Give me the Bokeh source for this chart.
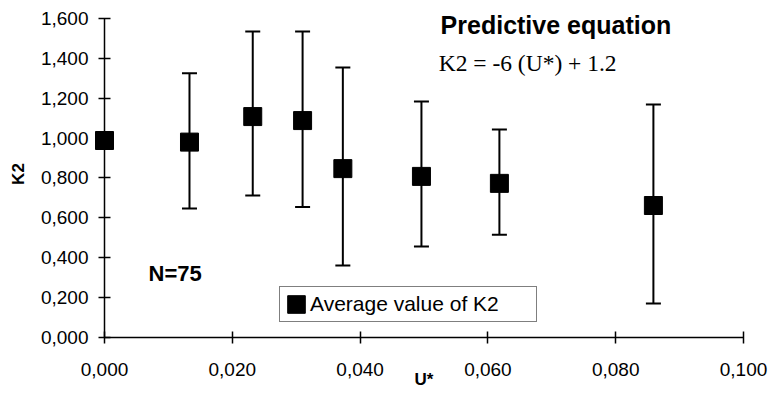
from bokeh.plotting import figure
from bokeh.models import (ColumnDataSource, Whisker, TeeHead, Range1d, FixedTicker,
                          Label, Legend, LegendItem)
from bokeh.embed import file_html
from bokeh.resources import INLINE

# ---- data ----
u_star = [0.000, 0.0133, 0.0232, 0.0310, 0.0373, 0.0496, 0.0618, 0.0859]
k2_mean = [0.988, 0.980, 1.108, 1.088, 0.847, 0.808, 0.773, 0.662]
k2_upper = [None, 1.325, 1.535, 1.535, 1.354, 1.184, 1.043, 1.168]
k2_lower = [None, 0.647, 0.712, 0.655, 0.361, 0.456, 0.515, 0.170]

x_ticks = [0, 0.02, 0.04, 0.06, 0.08, 0.1]
x_tick_labels = ["0,000", "0,020", "0,040", "0,060", "0,080", "0,100"]
y_ticks = [0, 0.2, 0.4, 0.6, 0.8, 1.0, 1.2, 1.4, 1.6]
y_tick_labels = ["0,000", "0,200", "0,400", "0,600", "0,800", "1,000", "1,200", "1,400", "1,600"]

SANS = "Liberation Sans"
SERIF = "Liberation Serif"

src = ColumnDataSource(dict(u=u_star, k2=k2_mean))
eb_idx = [i for i, v in enumerate(k2_upper) if v is not None]
eb_src = ColumnDataSource(dict(
    u=[u_star[i] for i in eb_idx],
    hi=[k2_upper[i] for i in eb_idx],
    lo=[k2_lower[i] for i in eb_idx],
))

p = figure(width=770, height=395,
           x_range=Range1d(0, 0.1), y_range=Range1d(0, 1.64),
           output_backend="svg", toolbar_location=None,
           min_border_left=104, min_border_right=27,
           min_border_top=10, min_border_bottom=58)
p.grid.visible = False
p.outline_line_color = None
p.background_fill_color = "white"
p.border_fill_color = "white"

# error bars
whisk = Whisker(base="u", upper="hi", lower="lo", source=eb_src, dimension="height",
                line_color="black", line_width=2,
                upper_head=TeeHead(size=15, line_color="black", line_width=2),
                lower_head=TeeHead(size=15, line_color="black", line_width=2))
p.add_layout(whisk)

# markers (overlay level so the point on the y axis is not clipped by the frame)
r = p.rect(x="u", y="k2", width=18, height=18, width_units="screen", height_units="screen",
           fill_color="black", line_color="black", source=src, level="overlay")

# axes
for ax in (p.xaxis[0], p.yaxis[0]):
    ax.axis_line_color = "black"
    ax.axis_line_width = 1.5
    ax.major_tick_line_color = "black"
    ax.major_tick_line_width = 1.5
    ax.major_tick_in = 6
    ax.major_tick_out = 6
    ax.minor_tick_line_color = None
    ax.major_label_text_font = SANS
    ax.major_label_text_font_size = "19px"
    ax.major_label_text_color = "black"

p.xaxis[0].ticker = FixedTicker(ticks=x_ticks)
p.xaxis[0].major_label_overrides = dict(zip(x_ticks, x_tick_labels))
p.xaxis[0].major_label_standoff = 19
p.xaxis[0].axis_label = "U*"
p.xaxis[0].axis_label_text_font = SANS
p.xaxis[0].axis_label_text_font_style = "bold"
p.xaxis[0].axis_label_text_font_size = "17px"
p.xaxis[0].axis_label_text_color = "black"
p.xaxis[0].axis_label_standoff = -9

p.yaxis[0].ticker = FixedTicker(ticks=y_ticks)
p.yaxis[0].bounds = (0, 1.6)
p.yaxis[0].major_label_overrides = dict(zip(y_ticks, y_tick_labels))
p.yaxis[0].major_label_standoff = 10
p.yaxis[0].axis_label = "K2"
p.yaxis[0].axis_label_text_font = SANS
p.yaxis[0].axis_label_text_font_style = "bold"
p.yaxis[0].axis_label_text_font_size = "17px"
p.yaxis[0].axis_label_text_color = "black"
p.yaxis[0].axis_label_standoff = 10

# annotations
p.add_layout(Label(x=0.0069, y=0.321, text="N=75", text_font=SANS, text_font_style="bold",
                   text_font_size="22px", text_baseline="middle", text_color="black"))
p.add_layout(Label(x=0.0526, y=1.565, text="Predictive equation", text_font=SANS,
                   text_font_style="bold", text_font_size="25px", text_baseline="middle",
                   text_color="black"))
p.add_layout(Label(x=0.0523, y=1.379, text="K2 = -6 (U*) + 1.2", text_font=SERIF,
                   text_font_size="23.5px", text_baseline="middle", text_color="black"))

# legend
legend = Legend(items=[LegendItem(label="Average value of K2", renderers=[r])],
                location=(175, 15), margin=0, padding=5, spacing=0,
                glyph_width=22, glyph_height=22, label_standoff=3,
                label_width=221, label_height=20,
                label_text_font=SANS, label_text_font_size="21px", label_text_color="black",
                border_line_color="black", border_line_width=1,
                background_fill_color="white", background_fill_alpha=1)
p.add_layout(legend)

open("out.html", "w").write(file_html(p, INLINE))
